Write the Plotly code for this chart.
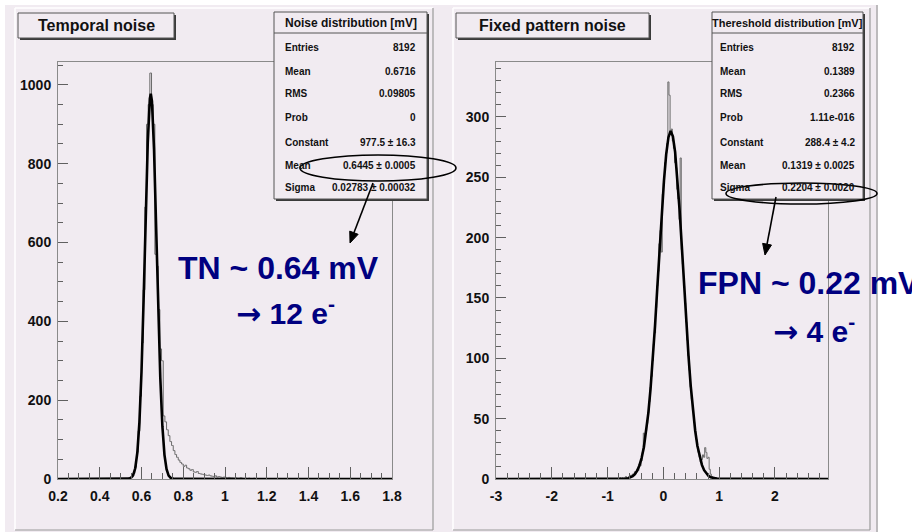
import numpy as np
import plotly.graph_objects as go

W, H = 912, 532
FONT = "Liberation Sans, Arial, Helvetica, sans-serif"
LAV = "#f1ebf1"
NAVY = "#000080"

# ---------------- data ----------------
# Temporal noise histogram (bin width 0.008, first bin starts at 0.544)
tn_bin_start = 0.544
tn_bin_width = 0.008
tn_counts = [3, 5, 14, 30, 68, 122, 210, 345, 480, 690,
             900, 950, 1030, 950, 900, 570, 540, 430, 330, 300,
             160, 145, 125, 110, 95, 85, 72, 62, 55, 48,
             42, 38, 32, 35, 28, 26, 22, 24, 18, 17,
             19, 14, 13, 12, 11, 10, 9, 10, 8, 7,
             6, 8, 5, 6, 5, 4, 5, 4, 3, 4,
             3, 3, 2, 3, 2, 2, 3, 2, 1, 2,
             1, 2, 1, 1, 2, 1, 0, 1, 1, 0,
             1, 0, 1, 0, 1, 0, 0, 1, 0, 0,
             0, 1, 0, 0, 1]
tn_range = [0.2, 1.8]
tn_fit_x = [0.2, 0.53, 0.54, 0.55, 0.56, 0.57, 0.58, 0.59, 0.60, 0.61, 0.62, 0.63,
            0.64, 0.6445, 0.65, 0.66, 0.67, 0.68, 0.69, 0.70, 0.71, 0.72, 0.73,
            0.74, 0.75, 0.76, 1.8]
tn_fit_y = [0, 0.2, 0.9, 3.1, 9.7, 27.2, 66.6, 143.7, 272, 453, 663.5, 853,
            965, 977.5, 958.6, 837, 642, 433, 257, 134, 61.3, 24.7, 8.7,
            2.7, 0.7, 0.2, 0]
tn_xticks = [0.2, 0.4, 0.6, 0.8, 1.0, 1.2, 1.4, 1.6, 1.8]
tn_xlabels = ["0.2", "0.4", "0.6", "0.8", "1", "1.2", "1.4", "1.6", "1.8"]
tn_yticks = [0, 200, 400, 600, 800, 1000]

# Fixed pattern noise histogram (bin width 0.02, first bin starts at -0.80)
fpn_bin_start = -0.80
fpn_bin_width = 0.02
fpn_counts = [0, 1, 0, 1, 0, 1, 2, 1, 0, 2,
              3, 2, 4, 3, 6, 5, 8, 7, 12, 11,
              15, 22, 38, 35, 40, 46, 55, 64, 76, 85,
              98, 112, 121, 142, 160, 172, 195, 206, 188, 236,
              245, 262, 270, 278, 329, 318, 286, 290, 280, 274,
              262, 258, 240, 232, 215, 266, 190, 178, 160, 146,
              130, 115, 102, 90, 76, 66, 57, 47, 40, 33,
              27, 22, 18, 14, 16, 20, 18, 26, 22, 17,
              18, 8, 4, 2, 1, 1, 0, 1, 0, 0]
fpn_range = [-3.0, 2.95]
fpn_fit_x = [-3.0, -0.79, -0.75, -0.71, -0.67, -0.63, -0.59, -0.55, -0.51, -0.47,
             -0.43, -0.39, -0.35, -0.31, -0.27, -0.23, -0.19, -0.15, -0.11,
             -0.07, -0.03, 0.01, 0.05, 0.09, 0.13, 0.17, 0.21, 0.25, 0.29,
             0.33, 0.37, 0.41, 0.45, 0.49, 0.53, 0.57, 0.61, 0.65, 0.69,
             0.73, 0.77, 0.81, 0.85, 0.89, 0.93, 0.97, 2.95]
fpn_fit_y = [0, 0.05, 0.1, 0.2, 0.4, 0.7, 1.3, 2.4, 4.1, 6.9,
             11.2, 17.4, 26.3, 38.7, 54.6, 74.8, 99.2, 127, 158,
             190, 220, 247, 269, 283, 288.4, 284, 271, 250, 223,
             193, 161, 130, 102, 77, 56.4, 40, 27.3, 18.1, 11.7,
             7.3, 4.4, 2.5, 1.4, 0.8, 0.4, 0.2, 0]
fpn_xticks = [-3, -2, -1, 0, 1, 2]
fpn_xlabels = ["-3", "-2", "-1", "0", "1", "2"]
fpn_yticks = [0, 50, 100, 150, 200, 250, 300]

tn_stats_title = "Noise distribution [mV]"
tn_stats_labels = ["Entries", "Mean", "RMS", "Prob", "Constant", "Mean", "Sigma"]
tn_stats_values = ["8192", "0.6716", "0.09805", "0", "977.5 \u00b1 16.3",
                   "0.6445 \u00b1 0.0005", "0.02783 \u00b1 0.00032"]
fpn_stats_title = "Thereshold distribution [mV]"
fpn_stats_labels = ["Entries", "Mean", "RMS", "Prob", "Constant", "Mean", "Sigma"]
fpn_stats_values = ["8192", "0.1389", "0.2366", "1.11e-016", "288.4 \u00b1 4.2",
                    "0.1319 \u00b1 0.0025", "0.2204 \u00b1 0.0020"]

# ---------------- helpers ----------------
def fx(p):
    return p / W


def fy(p):
    return 1 - p / H


def rect(x0, y0, x1, y1, fill=None, line=None, width=1, layer="above"):
    d = dict(type="rect", xref="paper", yref="paper",
             x0=fx(x0), x1=fx(x1), y0=fy(y1), y1=fy(y0), layer=layer)
    d["fillcolor"] = fill if fill else "rgba(0,0,0,0)"
    d["line"] = dict(color=line, width=width) if line else dict(width=0)
    return d


def seg(x0, y0, x1, y1, color, width=1, layer="above"):
    return dict(type="line", xref="paper", yref="paper",
                x0=fx(x0), x1=fx(x1), y0=fy(y0), y1=fy(y1),
                line=dict(color=color, width=width), layer=layer)


def hist_xy(start, width, counts, rng):
    centers = start + width * (np.arange(len(counts)) + 0.5)
    xs = [rng[0], start - width / 2] + list(centers) + [start + width * (len(counts) + 0.5), rng[1]]
    ys = [0, 0] + list(counts) + [0, 0]
    return xs, ys


fig = go.Figure()

tx, ty = hist_xy(tn_bin_start, tn_bin_width, tn_counts, tn_range)
fig.add_trace(go.Scatter(x=tx, y=ty, mode="lines", line=dict(shape="hvh", color="#6a6a6a", width=1),
                         xaxis="x", yaxis="y", hoverinfo="skip"))
fig.add_trace(go.Scatter(x=tn_fit_x, y=tn_fit_y, mode="lines", line=dict(color="black", width=2.6),
                         xaxis="x", yaxis="y", hoverinfo="skip"))

fx_, fy_ = hist_xy(fpn_bin_start, fpn_bin_width, fpn_counts, fpn_range)
fig.add_trace(go.Scatter(x=fx_, y=fy_, mode="lines", line=dict(shape="hvh", color="#6a6a6a", width=1),
                         xaxis="x2", yaxis="y2", hoverinfo="skip"))
fig.add_trace(go.Scatter(x=fpn_fit_x, y=fpn_fit_y, mode="lines", line=dict(color="black", width=2.6),
                         xaxis="x2", yaxis="y2", hoverinfo="skip"))

tickfont = dict(family=FONT, size=14, color="#111111", weight="bold")
common = dict(showgrid=False, zeroline=False, showline=True, linecolor="#8a8a8a", linewidth=1,
              mirror=True, ticks="inside", tickcolor="#606060", tickwidth=1, tickfont=tickfont,
              automargin=False)

fig.update_layout(
    width=W, height=H, autosize=False,
    margin=dict(l=0, r=0, t=0, b=0),
    paper_bgcolor="white", plot_bgcolor="rgba(0,0,0,0)",
    showlegend=False,
    xaxis=dict(domain=[fx(58), fx(392)], range=tn_range, tickmode="array", tickvals=tn_xticks,
               ticktext=tn_xlabels, ticklen=12, ticklabelstandoff=4,
               minor=dict(tickmode="linear", tick0=0.2, dtick=0.05, ticklen=6, ticks="inside",
                          tickcolor="#606060"), anchor="y", **common),
    yaxis=dict(domain=[fy(479), fy(62)], range=[0, 1058], tickmode="array", tickvals=tn_yticks,
               ticklen=10, ticklabelstandoff=3,
               minor=dict(tickmode="linear", tick0=0, dtick=50, ticklen=5, ticks="inside",
                          tickcolor="#606060"), anchor="x", **common),
    xaxis2=dict(domain=[fx(496), fx(828)], range=fpn_range, tickmode="array", tickvals=fpn_xticks,
                ticktext=fpn_xlabels, ticklen=12, ticklabelstandoff=4,
                minor=dict(tickmode="linear", tick0=-3, dtick=0.2, ticklen=6, ticks="inside",
                           tickcolor="#606060"), anchor="y2", **common),
    yaxis2=dict(domain=[fy(479), fy(62)], range=[0, 345.5], tickmode="array", tickvals=fpn_yticks,
                ticklen=10, ticklabelstandoff=3,
                minor=dict(tickmode="linear", tick0=0, dtick=10, ticklen=5, ticks="inside",
                           tickcolor="#606060"), anchor="x2", **common),
)

shapes = []
# canvas and pads
shapes.append(rect(5, 5, 878, 532, fill=LAV, layer="below"))
for (a, b) in [(15, 433), (453, 870)]:
    shapes.append(seg(a, 8, b, 8, "white", 1.5, "below"))
    shapes.append(seg(a, 8, a, 530, "white", 1.5, "below"))
    shapes.append(seg(b, 8, b, 530, "#9a9a9a", 1.2, "below"))
    shapes.append(seg(a, 530, b, 530, "#9a9a9a", 1.2, "below"))
shapes.append(seg(877, 5, 877, 532, "#9a9a9a", 1.2, "below"))


def box(x0, y0, x1, y1):
    return [rect(x0 + 2, y0 + 2, x1 + 2, y1 + 2, fill="#3a3a3a"),
            rect(x0, y0, x1, y1, fill=LAV, line="#555555", width=1)]


# title boxes
shapes += box(18, 13, 174, 38)
shapes += box(456, 13, 649, 38)
# stats boxes
shapes += box(274, 12, 427, 199)
shapes.append(seg(274, 33, 427, 33, "#555555", 1))
shapes += box(712, 12, 863, 199)
shapes.append(seg(712, 33, 863, 33, "#555555", 1))
# ellipses
shapes.append(dict(type="circle", xref="paper", yref="paper", x0=fx(300), x1=fx(456),
                   y0=fy(181), y1=fy(155), line=dict(color="black", width=1.6)))
shapes.append(dict(type="circle", xref="paper", yref="paper", x0=fx(726), x1=fx(877),
                   y0=fy(204), y1=fy(183), line=dict(color="black", width=1.6)))

# pointer arrows (line + filled head)
for (hx, hy, tx_, ty_) in [(350, 243, 373, 183), (765, 255, 776, 197)]:
    v = np.array([hx - tx_, hy - ty_], dtype=float)
    u = v / np.linalg.norm(v)
    p = np.array([-u[1], u[0]])
    base = np.array([hx, hy]) - 11 * u
    b1 = base + 4.5 * p
    b2 = base - 4.5 * p
    shapes.append(seg(tx_, ty_, base[0], base[1], "black", 1.6))
    shapes.append(dict(type="path", xref="paper", yref="paper",
                       path=f"M {fx(hx)} {fy(hy)} L {fx(b1[0])} {fy(b1[1])} L {fx(b2[0])} {fy(b2[1])} Z",
                       fillcolor="black", line=dict(color="black", width=1)))
fig.update_layout(shapes=shapes)

ann = []


def text(x, y, s, size, color="#111111", anchor="center", bold=True):
    ann.append(dict(x=fx(x), y=fy(y), xref="paper", yref="paper", text=s, showarrow=False,
                    xanchor=anchor, yanchor="middle",
                    font=dict(family=FONT, size=size, color=color, weight="bold" if bold else "normal")))


text(96, 25.5, "Temporal noise", 16)
text(552, 25.5, "Fixed pattern noise", 16)

rows_y = [47, 71, 94, 118, 142, 165, 188]
text(350.5, 23, tn_stats_title, 12)
for lab, val, yy in zip(tn_stats_labels, tn_stats_values, rows_y):
    text(283, yy, lab, 10, anchor="left")
    text(418, yy, val, 10, anchor="right")
text(787.5, 23, fpn_stats_title, 11)
for lab, val, yy in zip(fpn_stats_labels, fpn_stats_values, rows_y):
    text(718, yy, lab, 10, anchor="left")
    text(857, yy, val, 10, anchor="right")

ARROW = "<span style=\"font-family:'DejaVu Sans'\">\u2192</span>"
text(278, 268, "TN ~ 0.64 mV", 32, color=NAVY)
text(234, 311, ARROW + " 12 e<sup>-</sup>", 30, color=NAVY, anchor="left")
text(696, 283, "FPN ~ 0.22 mV", 32, color=NAVY, anchor="left")
text(771, 329, ARROW + " 4 e<sup>-</sup>", 30, color=NAVY, anchor="left")

fig.update_layout(annotations=ann)
fig.write_html(
    "out.html",
    config={"displayModeBar": False},
    post_script=(
        "document.documentElement.style.overflow='hidden';"
        "document.body.style.margin='0';document.body.style.overflow='hidden';"
        "var d=document.getElementById('{plot_id}');"
        "d.style.position='fixed';d.style.left='0px';d.style.top='0px';"
    ),
)
